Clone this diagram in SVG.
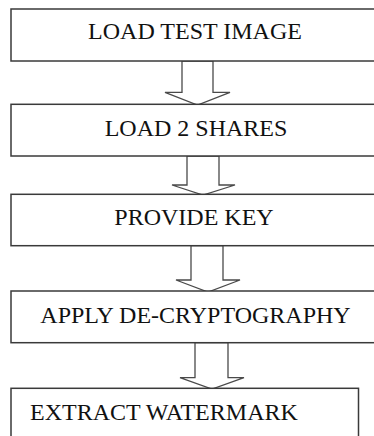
<svg xmlns="http://www.w3.org/2000/svg" width="374" height="436" viewBox="0 0 374 436">
  <style>
    .box { fill: #ffffff; stroke: #3a3a3a; stroke-width: 1.5; }
    .arrow { fill: #ffffff; stroke: #4a4a4a; stroke-width: 1.3; stroke-linejoin: miter; }
    .label { font-family: "Liberation Serif", "Times New Roman", serif; font-size: 24px; fill: #111111; }
  </style>
  <rect width="374" height="436" fill="#ffffff"/>

  <!-- block arrows between steps -->
  <g id="connectors">
    <polygon class="arrow" points="182,61 213,61 213,92.3 230,92.3 197.5,105 165,92.3 182,92.3"/>
    <polygon class="arrow" points="187,156 219,156 219,185 235,185 203,195 172,185 187,185"/>
    <polygon class="arrow" points="191,245.7 223,245.7 223,280 240,280 208,292 176,280 191,280"/>
    <polygon class="arrow" points="195,342.7 228,342.7 228,377.7 244,377.7 212,389 180,377.7 195,377.7"/>
  </g>

  <g id="load-test-image">
    <rect class="box" x="11" y="9" width="375" height="52"/>
    <text class="label" x="195" y="39" text-anchor="middle">LOAD TEST IMAGE</text>
  </g>

  <g id="load-2-shares">
    <rect class="box" x="11" y="104.3" width="375" height="51.7"/>
    <text class="label" x="196" y="135.5" text-anchor="middle">LOAD 2 SHARES</text>
  </g>

  <g id="provide-key">
    <rect class="box" x="11" y="194.3" width="375" height="51.4"/>
    <text class="label" x="194" y="225" text-anchor="middle">PROVIDE KEY</text>
  </g>

  <g id="apply-de-cryptography">
    <rect class="box" x="11" y="291" width="375" height="51.7"/>
    <text class="label" x="195.5" y="322.7" text-anchor="middle">APPLY DE-CRYPTOGRAPHY</text>
  </g>

  <g id="extract-watermark">
    <rect class="box" x="11" y="388.3" width="347.5" height="60"/>
    <text class="label" x="30" y="420">EXTRACT WATERMARK</text>
  </g>
</svg>
